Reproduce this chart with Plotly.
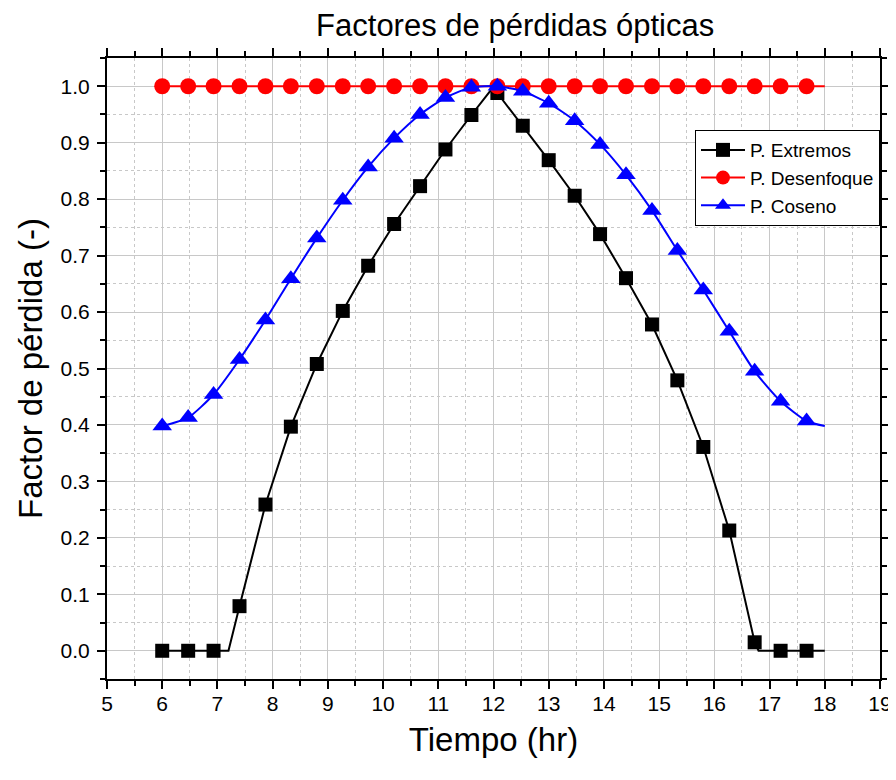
import plotly.graph_objects as go

# ---- data ----
hours = [6.0, 6.47, 6.93, 7.4, 7.87, 8.33, 8.8, 9.27, 9.73, 10.2, 10.67, 11.13, 11.6,
         12.07, 12.53, 13.0, 13.47, 13.93, 14.4, 14.87, 15.33, 15.8, 16.27, 16.73, 17.2, 17.67]

extremos = [0.0, 0.0, 0.0, 0.079, 0.259, 0.397, 0.508, 0.602, 0.682, 0.756, 0.823, 0.888, 0.949,
            0.988, 0.930, 0.869, 0.806, 0.738, 0.660, 0.578, 0.479, 0.361, 0.213, 0.015, 0.0, 0.0]
desenfoque = [1.0] * 26
coseno = [0.398, 0.413, 0.454, 0.516, 0.586, 0.659, 0.731, 0.798, 0.857, 0.908, 0.950, 0.980, 0.998,
          1.0, 0.991, 0.970, 0.939, 0.897, 0.843, 0.780, 0.709, 0.639, 0.566, 0.495, 0.442, 0.407]

# extra points of the continuous curves (between markers / after last marker)
extremos_extra_x = [7.2, 12.0, 16.8, 18.0]
extremos_extra_y = [0.0, 0.999, 0.0, 0.0]
desenfoque_extra_x = [18.0]
desenfoque_extra_y = [1.0]
coseno_extra_x = [18.0]
coseno_extra_y = [0.398]

series_names = ["P. Extremos", "P. Desenfoque", "P. Coseno"]
x_ticks = list(range(5, 20))
y_ticks = [round(0.1 * i, 1) for i in range(11)]

FONT = "Liberation Sans, Arial, sans-serif"


def merged(xs, ys, ex, ey):
    pts = sorted(list(zip(xs, ys)) + list(zip(ex, ey)))
    return [p[0] for p in pts], [p[1] for p in pts]


styles = [
    dict(color="black", symbol="square", size=14, shape="linear"),
    dict(color="#ff0000", symbol="circle", size=16, shape="linear"),
    dict(color="#0000ff", symbol="triangle-up", size=17, shape="spline"),
]
data = [
    (extremos, extremos_extra_x, extremos_extra_y),
    (desenfoque, desenfoque_extra_x, desenfoque_extra_y),
    (coseno, coseno_extra_x, coseno_extra_y),
]

fig = go.Figure()
for name, st, (ys, ex, ey) in zip(series_names, styles, data):
    lx, ly = merged(hours, ys, ex, ey)
    fig.add_trace(go.Scatter(x=lx, y=ly, mode="lines", showlegend=False,
                             line=dict(color=st["color"], width=2, shape=st["shape"], smoothing=0.6),
                             hoverinfo="skip"))
    fig.add_trace(go.Scatter(x=hours, y=ys, mode="markers", showlegend=False,
                             marker=dict(color=st["color"], symbol=st["symbol"], size=st["size"])))
    fig.add_trace(go.Scatter(x=[None], y=[None], mode="lines+markers", name=name,
                             line=dict(color=st["color"], width=2),
                             marker=dict(color=st["color"], symbol=st["symbol"], size=14)))

axis_common = dict(
    showline=True, linecolor="black", linewidth=2, mirror="ticks",
    ticks="outside", ticklen=8, tickwidth=2, tickcolor="black",
    showgrid=True, gridcolor="#c8c8c8", gridwidth=1, zeroline=False,
    tickfont=dict(family=FONT, size=21, color="black"),
    automargin=False,
)

fig.update_xaxes(
    range=[5, 19], tickmode="array", tickvals=x_ticks, ticktext=[str(v) for v in x_ticks],
    minor=dict(dtick=0.5, tick0=5, ticks="outside", ticklen=5, tickwidth=2, tickcolor="black",
               showgrid=True, gridcolor="#c8c8c8", griddash="dot", gridwidth=1),
    ticklabelstandoff=-3,
    title=dict(text="Tiempo (hr)", font=dict(family=FONT, size=33, color="black"), standoff=14),
    **axis_common,
)
fig.update_yaxes(
    range=[-0.05, 1.05], tickmode="array", tickvals=y_ticks, ticktext=[f"{v:.1f}" for v in y_ticks],
    minor=dict(dtick=0.05, tick0=0, ticks="outside", ticklen=5, tickwidth=2, tickcolor="black",
               showgrid=True, gridcolor="#c8c8c8", griddash="dot", gridwidth=1),
    ticklabelstandoff=3,
    title=dict(text="Factor de pérdida (-)", font=dict(family=FONT, size=33, color="black"), standoff=8),
    **axis_common,
)

# the page places the figure 8 px from the top-left corner; margins compensate for that
fig.update_layout(
    width=896, height=780,
    margin=dict(l=99, r=24, t=50, b=109),
    plot_bgcolor="white", paper_bgcolor="white",
    title=dict(text="Factores de pérdidas ópticas", x=0.566, xanchor="center",
               y=0.978, yanchor="middle", yref="container",
               font=dict(family=FONT, size=31, color="black")),
    legend=dict(x=1, xanchor="right", y=0.884, yanchor="top",
                bordercolor="black", borderwidth=1, bgcolor="white",
                font=dict(family=FONT, size=19, color="black"),
                tracegroupgap=0, itemwidth=44),
    showlegend=True,
)

fig.write_html("out.html")
